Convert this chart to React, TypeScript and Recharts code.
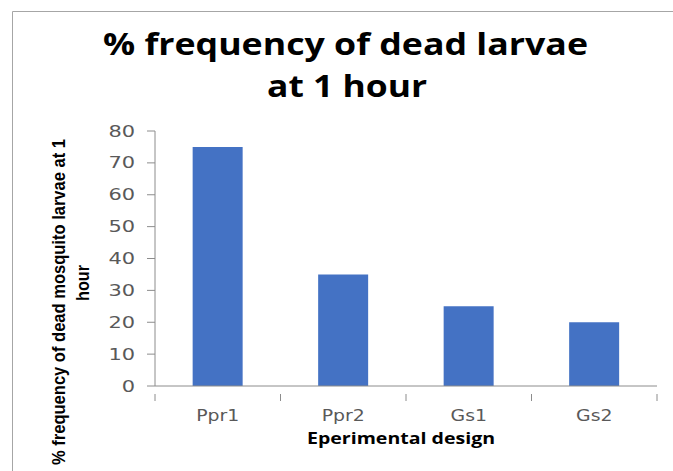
import React from "react";
import { BarChart, Bar, XAxis, YAxis } from "recharts";

const categories = ["Ppr1", "Ppr2", "Gs1", "Gs2"];
const deadLarvae = [75, 35, 25, 20];
const yTicks = [0, 10, 20, 30, 40, 50, 60, 70, 80];

const data = categories.map((name, i) => ({ name, value: deadLarvae[i] }));

const AXIS = "#8c8c8c";
const TICK_TEXT = "#595959";

function YTick(props: any) {
  const { x, y, payload } = props;
  return (
    <g transform={`translate(${x},${y}) scale(1.35,1)`}>
      <text x={0} y={5.5} textAnchor="end" fontFamily="DejaVu Sans" fontSize={15.5} fill={TICK_TEXT}>
        {payload.value}
      </text>
    </g>
  );
}

function XTick(props: any) {
  const { x, y, payload, index, visibleTicksCount, width } = props;
  const band = width && visibleTicksCount ? width / visibleTicksCount : 125.5;
  const last = index === (visibleTicksCount ?? categories.length) - 1;
  return (
    <g>
      <line x1={x - band / 2} x2={x - band / 2} y1={y} y2={y + 7} stroke={AXIS} />
      {last && <line x1={x + band / 2} x2={x + band / 2} y1={y} y2={y + 7} stroke={AXIS} />}
      <g transform={`translate(${x},${y + 27}) scale(1.18,1)`}>
        <text x={0} y={0} textAnchor="middle" fontFamily="DejaVu Sans" fontSize={16} fill={TICK_TEXT}>
          {payload.value}
        </text>
      </g>
    </g>
  );
}

export default function App() {
  return (
    <div style={{ position: "absolute", left: 0, top: 0, width: 673, height: 471, background: "#fff" }}>
      <BarChart
        width={673}
        height={471}
        data={data}
        margin={{ top: 131, right: 16, bottom: 55, left: 0 }}
        barCategoryGap="30%"
      >
        <XAxis
          dataKey="name"
          height={30}
          stroke={AXIS}
          tickLine={false}
          tick={<XTick />}
          interval={0}
        />
        <YAxis
          width={155}
          domain={[0, 80]}
          ticks={yTicks}
          stroke={AXIS}
          tickSize={8}
          tickLine={{ stroke: AXIS }}
          tick={<YTick />}
          tickMargin={12}
          interval={0}
        />
        <Bar dataKey="value" fill="#4472C4" isAnimationActive={false} />
      </BarChart>
      <svg
        width={673}
        height={471}
        style={{ position: "absolute", left: 0, top: 0, pointerEvents: "none" }}
      >
        <line x1={12.5} y1={11.5} x2={673} y2={11.5} stroke="#a6a6a6" />
        <line x1={12.5} y1={11.5} x2={12.5} y2={471} stroke="#a6a6a6" />
        <text
          x={345.5}
          y={55}
          textAnchor="middle"
          fontFamily="Open Sans"
          fontWeight="bold"
          fontSize={31}
          fill="#000"
          textLength={485}
          lengthAdjust="spacingAndGlyphs"
        >
          % frequency of dead larvae
        </text>
        <text
          x={347}
          y={97}
          textAnchor="middle"
          fontFamily="Open Sans"
          fontWeight="bold"
          fontSize={31}
          fill="#000"
          textLength={160}
          lengthAdjust="spacingAndGlyphs"
        >
          at 1 hour
        </text>
        <text
          transform="translate(65,302) rotate(-90)"
          textAnchor="middle"
          fontFamily="Liberation Sans Narrow, Liberation Sans"
          fontWeight="bold"
          fontSize={19}
          fill="#000"
          textLength={326}
          lengthAdjust="spacingAndGlyphs"
        >
          % frequency of dead mosquito larvae at 1
        </text>
        <text
          transform="translate(89,283) rotate(-90)"
          textAnchor="middle"
          fontFamily="Liberation Sans Narrow, Liberation Sans"
          fontWeight="bold"
          fontSize={19}
          fill="#000"
          textLength={36}
          lengthAdjust="spacingAndGlyphs"
        >
          hour
        </text>
        <text
          x={401}
          y={444}
          textAnchor="middle"
          fontFamily="Open Sans"
          fontWeight="bold"
          fontSize={16}
          fill="#000"
          textLength={188}
          lengthAdjust="spacingAndGlyphs"
        >
          Eperimental design
        </text>
      </svg>
    </div>
  );
}
